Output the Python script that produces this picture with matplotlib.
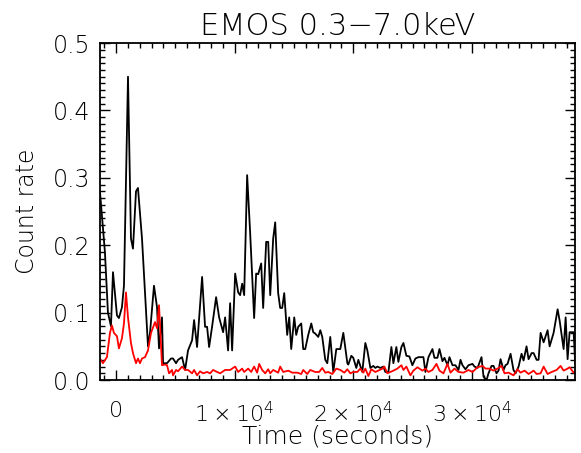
import matplotlib
matplotlib.use("Agg")
import matplotlib.pyplot as plt
import matplotlib.ticker as ticker

# EMOS light curve, 0.3-7.0 keV (times in seconds, rates in counts/s)
src_time = [-1350, -930, -675, -420, -250, 85, 250, 505, 675, 1015, 1265, 1435,
            1690, 1855, 2195, 2450, 2700, 2870, 3205, 3460, 3630, 3880, 3970,
            4305, 4640, 4810, 5065, 5230, 5570, 5825, 6075, 6415, 6585, 6835,
            7260, 7510, 7680, 7850, 8100, 8440, 8695, 9030, 9200, 9450, 9620,
            9790, 10045, 10300, 10465, 10635, 10805, 11055, 11310, 11645, 11815,
            11985, 12240, 12405, 12660, 12830, 13000, 13250, 13420, 13670, 13840,
            14010, 14180, 14430, 14600, 14770, 15025, 15190, 15360, 15615, 15780,
            15950, 16205, 16460, 16625, 16795, 17050, 17220, 17385, 17640, 17810,
            18060, 18315, 18570, 18905, 19160, 19500, 19580, 19835, 20000, 20255,
            20425, 20760, 21015, 21185, 21440, 21690, 21860, 22030, 22280, 22535,
            22700, 22960, 23210, 23380, 23630, 23800, 24055, 24225, 24475, 24730,
            24980, 25235, 25490, 25910, 26080, 26335, 26670, 26840, 27090, 27260,
            27515, 27685, 27940, 28105, 28360, 28610, 28865, 29035, 29200, 29455,
            29710, 30045, 30215, 30470, 30805, 30975, 31230, 31395, 31650, 31820,
            32070, 32240, 32410, 32660, 32830, 33000, 33255, 33500, 33675, 33930,
            34180, 34350, 34600, 34770, 35030, 35195, 35450, 35615, 35785, 36040,
            36375, 36545, 36880, 37220, 37390, 37725, 37895, 38060, 38230, 38570,
            38700]
src_rate = [0.28, 0.19, 0.10, 0.08, 0.16, 0.096, 0.092, 0.108, 0.14, 0.45, 0.21,
            0.195, 0.28, 0.285, 0.21, 0.13, 0.05, 0.07, 0.14, 0.108, 0.047, 0.093,
            0.025, 0.025, 0.032, 0.032, 0.025, 0.03, 0.034, 0.015, 0.044, 0.059,
            0.089, 0.049, 0.153, 0.079, 0.079, 0.049, 0.079, 0.123, 0.093, 0.071,
            0.093, 0.044, 0.114, 0.044, 0.158, 0.13, 0.126, 0.143, 0.126, 0.304,
            0.218, 0.092, 0.158, 0.157, 0.173, 0.107, 0.205, 0.205, 0.126, 0.21,
            0.234, 0.129, 0.107, 0.107, 0.129, 0.067, 0.093, 0.046, 0.093, 0.067,
            0.079, 0.084, 0.046, 0.046, 0.067, 0.084, 0.071, 0.069, 0.064, 0.074,
            0.064, 0.03, 0.025, 0.064, 0.012, 0.046, 0.046, 0.07, 0.025, 0.023,
            0.036, 0.033, 0.018, 0.03, 0.012, 0.055, 0.044, 0.018, 0.021, 0.018,
            0.02, 0.018, 0.02, 0.012, 0.012, 0.049, 0.025, 0.049, 0.027, 0.049,
            0.055, 0.036, 0.035, 0.022, 0.032, 0.034, 0.034, 0.012, 0.034, 0.046,
            0.033, 0.033, 0.046, 0.028, 0.033, 0.022, 0.034, 0.022, 0.022, 0.015,
            0.03, 0.022, 0.016, 0.022, 0.024, 0.02, 0.018, 0.034, 0.005, 0.0,
            0.01, 0.021, 0.021, 0.01, 0.014, 0.031, 0.015, 0.022, 0.024, 0.039,
            0.015, 0.01, 0.02, 0.039, 0.029, 0.05, 0.031, 0.04, 0.04, 0.03, 0.03,
            0.07, 0.056, 0.074, 0.05, 0.07, 0.105, 0.088, 0.046, 0.093, 0.031,
            0.071, 0.071, 0.025]

bkg_time = [-1350, -1100, -760, -505, -340, -170, 85, 250, 505, 675, 845, 1015,
            1265, 1435, 1690, 1855, 2025, 2195, 2450, 2700, 2955, 3290, 3460,
            3630, 3880, 4135, 4305, 4475, 4725, 4810, 5065, 5230, 5570, 5825,
            6075, 6415, 6585, 6835, 7090, 7345, 7680, 7935, 8185, 8525, 8780,
            9030, 9200, 9620, 10045, 10300, 10635, 10805, 11140, 11395, 11645,
            11900, 12070, 12320, 12575, 12830, 13000, 13250, 13670, 13840, 14095,
            14520, 14855, 15275, 15615, 15780, 16120, 16375, 16795, 17130, 17385,
            17640, 17895, 18230, 18570, 18905, 19245, 19500, 19750, 20000, 20340,
            20590, 20845, 21015, 21270, 21520, 21860, 22110, 22450, 22620, 22870,
            23125, 23380, 23715, 24055, 24225, 24475, 24815, 25065, 25405, 25825,
            26080, 26335, 26670, 27010, 27260, 27600, 27935, 28190, 28530, 28865,
            29280, 29710, 30045, 30470, 30890, 31145, 31480, 31820, 32155, 32495,
            32745, 33085, 33505, 33840, 34095, 34435, 34770, 35195, 35450, 35785,
            36040, 36375, 36715, 37135, 37470, 37725, 38060, 38230, 38570, 38700]
bkg_rate = [0.032, 0.025, 0.034, 0.07, 0.081, 0.07, 0.065, 0.047, 0.062, 0.084,
            0.13, 0.093, 0.055, 0.04, 0.025, 0.032, 0.025, 0.032, 0.034, 0.044,
            0.07, 0.086, 0.077, 0.111, 0.022, 0.023, 0.022, 0.01, 0.015, 0.007,
            0.015, 0.013, 0.02, 0.015, 0.015, 0.01, 0.015, 0.007, 0.013, 0.01,
            0.012, 0.01, 0.015, 0.012, 0.01, 0.013, 0.015, 0.015, 0.02, 0.012,
            0.017, 0.012, 0.017, 0.012, 0.02, 0.011, 0.024, 0.015, 0.01, 0.016,
            0.01, 0.015, 0.011, 0.02, 0.012, 0.014, 0.011, 0.011, 0.009, 0.015,
            0.009, 0.015, 0.012, 0.012, 0.018, 0.011, 0.012, 0.009, 0.017, 0.015,
            0.011, 0.016, 0.01, 0.012, 0.012, 0.017, 0.011, 0.017, 0.006, 0.016,
            0.012, 0.014, 0.017, 0.02, 0.01, 0.012, 0.014, 0.017, 0.022, 0.015,
            0.02, 0.007, 0.014, 0.019, 0.014, 0.017, 0.012, 0.015, 0.024, 0.014,
            0.01, 0.024, 0.011, 0.017, 0.012, 0.011, 0.015, 0.012, 0.019, 0.021,
            0.017, 0.017, 0.014, 0.017, 0.021, 0.01, 0.011, 0.007, 0.016, 0.011,
            0.014, 0.009, 0.014, 0.009, 0.01, 0.02, 0.009, 0.012, 0.015, 0.021,
            0.014, 0.017, 0.019, 0.011, 0.012]

x_ticks = [0, 10000, 20000, 30000]
x_ticklabels = ["0", r"$1\times10^4$", r"$2\times10^4$", r"$3\times10^4$"]

plt.rcParams["font.family"] = "DejaVu Sans"
plt.rcParams["font.weight"] = "light"
plt.rcParams["axes.titleweight"] = "light"
plt.rcParams["axes.labelweight"] = "light"
plt.rcParams["mathtext.fontset"] = "custom"
plt.rcParams["mathtext.rm"] = "DejaVu Sans:light"
plt.rcParams["mathtext.it"] = "DejaVu Sans:light"
plt.rcParams["mathtext.default"] = "rm"

fig = plt.figure(figsize=(5.81, 4.53), dpi=100)
ax = fig.add_axes([0.172, 0.161, 0.818, 0.744])

ax.plot(src_time, src_rate, color="black", lw=1.3)
ax.plot(bkg_time, bkg_rate, color="red", lw=1.3)

ax.set_xlim(-1350, 38700)
ax.set_ylim(0, 0.5)

ax.set_xticks(x_ticks)
ax.set_xticklabels(x_ticklabels)
ax.xaxis.set_minor_locator(ticker.MultipleLocator(1000))
ax.yaxis.set_major_locator(ticker.MultipleLocator(0.1))
ax.yaxis.set_minor_locator(ticker.MultipleLocator(0.01))
ax.yaxis.set_major_formatter(ticker.FormatStrFormatter("%.1f"))

ax.tick_params(which="both", direction="in", top=True, right=True,
               labelcolor="black", width=1)
ax.tick_params(axis="x", which="major", length=7, pad=15, labelsize=16)
ax.tick_params(axis="y", which="major", length=7, pad=7, labelsize=17)
ax.tick_params(which="minor", length=3.5)
for s in ax.spines.values():
    s.set_linewidth(1.3)

ax.set_xlabel("Time (seconds)", fontsize=18, labelpad=-1)
ax.set_ylabel("Count rate", fontsize=17, labelpad=10)
ax.set_title("EMOS 0.3\u22127.0keV", fontsize=22, pad=6)

fig.savefig("out.png", dpi=100)
